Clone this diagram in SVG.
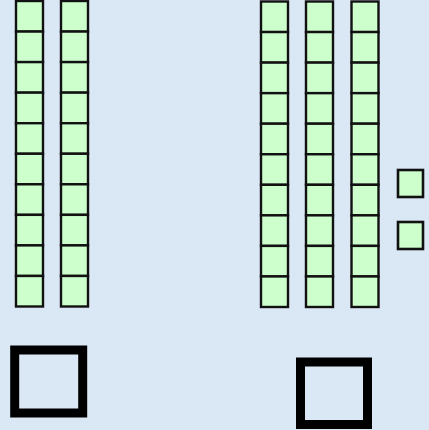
<svg xmlns="http://www.w3.org/2000/svg" width="429" height="430" viewBox="0 0 429 430">
<style>
.u{fill:#ccffcc;stroke:#111;stroke-width:2.4}
.big{fill:none;stroke:#000;stroke-width:9}
</style>
<defs>
<g id="col">
<rect class="u" x="0" y="0" width="27" height="30.55"/>
<rect class="u" x="0" y="30.55" width="27" height="30.55"/>
<rect class="u" x="0" y="61.1" width="27" height="30.55"/>
<rect class="u" x="0" y="91.65" width="27" height="30.55"/>
<rect class="u" x="0" y="122.2" width="27" height="30.55"/>
<rect class="u" x="0" y="152.75" width="27" height="30.55"/>
<rect class="u" x="0" y="183.3" width="27" height="30.55"/>
<rect class="u" x="0" y="213.85" width="27" height="30.55"/>
<rect class="u" x="0" y="244.4" width="27" height="30.55"/>
<rect class="u" x="0" y="274.95" width="27" height="30.55"/>
</g>
</defs>
<rect x="0" y="0" width="429" height="430" fill="#dae8f6"/>
<g id="ten1"><use href="#col" x="16" y="1"/></g>
<g id="ten2"><use href="#col" x="61" y="1"/></g>
<g id="ten3"><use href="#col" x="261" y="1.5"/></g>
<g id="ten4"><use href="#col" x="306" y="1.5"/></g>
<g id="ten5"><use href="#col" x="351.5" y="1.5"/></g>
<g id="one1"><rect class="u" x="398" y="170" width="25" height="27" style="stroke-width:2.6"/></g>
<g id="one2"><rect class="u" x="398" y="222" width="25" height="27" style="stroke-width:2.6"/></g>
<g id="box1"><rect class="big" x="14.7" y="350" width="68" height="63"/></g>
<g id="box2"><rect class="big" x="300.5" y="362" width="67" height="62.5"/></g>
</svg>
